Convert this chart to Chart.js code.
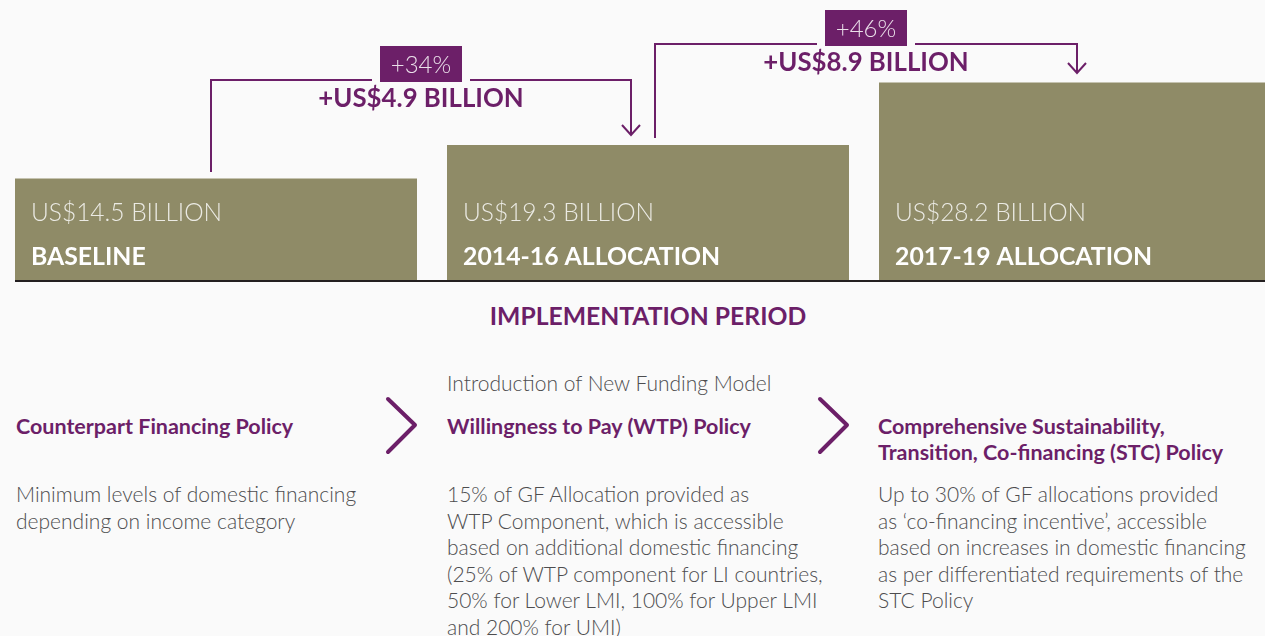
<!DOCTYPE html>
<html>
<head>
<meta charset="utf-8">
<script src="https://cdn.jsdelivr.net/npm/chart.js@4/dist/chart.umd.min.js"></script>
<style>
  html, body { margin: 0; padding: 0; background: #fafafa; overflow: hidden; }
  body { width: 1265px; height: 636px; position: relative; font-family: Lato, "Open Sans", sans-serif; }
  #chart { position: absolute; left: 0; top: 0; }
  .txt { position: absolute; white-space: nowrap; }
  .title { left: 0; width: 1296px; top: 301px; text-align: center; font-size: 24.7px; line-height: 30px; font-weight: 700; color: #6c1f68; }
  .intro { top: 370px; font-size: 21px; line-height: 26px; font-weight: 300; color: #4d4d4f; }
  .head { top: 413px; font-size: 21.5px; line-height: 26px; font-weight: 700; color: #6c1f68; }
  .body { top: 481px; font-size: 21px; line-height: 26.6px; font-weight: 300; color: #4d4d4f; }
  svg { position: absolute; left: 0; top: 0; }
</style>
</head>
<body>
<canvas id="chart" width="1296" height="300"></canvas>

<div class="txt title">IMPLEMENTATION PERIOD</div>

<div class="txt head" style="left:16px">Counterpart Financing Policy</div>
<div class="txt body" style="left:16px">Minimum levels of domestic financing<br>depending on income category</div>

<div class="txt intro" style="left:447px">Introduction of New Funding Model</div>
<div class="txt head" style="left:447px">Willingness to Pay (WTP) Policy</div>
<div class="txt body" style="left:447px">15% of GF Allocation provided as<br>WTP Component, which is accessible<br>based on additional domestic financing<br>(25% of WTP component for LI countries,<br>50% for Lower LMI, 100% for Upper LMI<br>and 200% for UMI)</div>

<div class="txt head" style="left:878px">Comprehensive Sustainability,<br>Transition, Co-financing (STC) Policy</div>
<div class="txt body" style="left:878px">Up to 30% of GF allocations provided<br>as ‘co-financing incentive’, accessible<br>based on increases in domestic financing<br>as per differentiated requirements of the<br>STC Policy</div>

<svg width="1265" height="636">
  <polyline points="388,399 415,425 388,452" fill="none" stroke="#6c1f68" stroke-width="4" stroke-linecap="round" stroke-linejoin="round"/>
  <polyline points="820,399 847,425 820,452" fill="none" stroke="#6c1f68" stroke-width="4" stroke-linecap="round" stroke-linejoin="round"/>
</svg>

<script>
// allocation periods and amounts (US$ billion)
const categories = ['BASELINE', '2014-16 ALLOCATION', '2017-19 ALLOCATION'];
const allocations = [14.5, 19.3, 28.2];

// increase from one period to the next
const increaseAmounts = [4.9, 8.9];
const increasePercents = [34, 46];

const PURPLE = '#6c1f68';

// label inside each bar + brackets with arrows between bars
const allocationLabels = {
    id: 'allocationLabels',
    afterDatasetsDraw(chart) {
        const ctx = chart.ctx;
        const bars = chart.getDatasetMeta(0).data;
        const area = chart.chartArea;

        ctx.save();

        // base line under the bars
        ctx.fillStyle = '#231f20';
        ctx.fillRect(bars[0].x - bars[0].width / 2, area.bottom, chart.width, 2);

        ctx.textBaseline = 'middle';
        ctx.textAlign = 'left';
        bars.forEach((bar, i) => {
            const left = bar.x - bar.width / 2;
            ctx.font = '300 24.5px Lato';
            ctx.fillStyle = 'rgba(255,255,255,0.82)';
            ctx.fillText('US$' + allocations[i].toFixed(1) + ' BILLION', left + 16, bar.base - 67);
            ctx.font = '700 24.8px Lato';
            ctx.fillStyle = '#ffffff';
            ctx.fillText(categories[i], left + 16, bar.base - 23);
        });

        // bracket offsets from the bar centres, and height of the top line
        const brackets = [
            { from: -5, to: -17, level: 80 },
            { from: 7, to: -3, level: 44 }
        ];

        ctx.strokeStyle = PURPLE;
        ctx.lineWidth = 2;
        brackets.forEach((b, i) => {
            const from = bars[i];
            const to = bars[i + 1];
            const x1 = Math.round(from.x + b.from);
            const x2 = Math.round(to.x + b.to);
            const y0 = b.level;
            const mid = (x1 + x2) / 2;
            const tip = Math.round(to.y - 10);

            ctx.font = '300 24px Lato';
            const pct = '+' + increasePercents[i] + '%';
            const w = Math.round(ctx.measureText(pct).width + 22);
            const boxLeft = Math.round(mid - w / 2);

            ctx.beginPath();
            ctx.moveTo(x1, Math.round(from.y - 7));
            ctx.lineTo(x1, y0);
            ctx.lineTo(boxLeft - 8, y0);
            ctx.moveTo(boxLeft + w + 8, y0);
            ctx.lineTo(x2, y0);
            ctx.lineTo(x2, tip);
            ctx.moveTo(x2 - 9, tip - 10);
            ctx.lineTo(x2, tip);
            ctx.lineTo(x2 + 9, tip - 10);
            ctx.stroke();

            ctx.fillStyle = PURPLE;
            ctx.fillRect(boxLeft, y0 - 34, w, 36);
            ctx.fillStyle = '#eadfe9';
            ctx.textAlign = 'center';
            ctx.fillText(pct, mid, y0 - 15);

            ctx.font = '700 25.8px Lato';
            ctx.fillStyle = PURPLE;
            ctx.fillText('+US$' + increaseAmounts[i].toFixed(1) + ' BILLION', mid, y0 + 19);
        });

        ctx.restore();
    }
};

new Chart(document.getElementById('chart'), {
    type: 'bar',
    data: {
        labels: categories,
        datasets: [{
            data: allocations,
            backgroundColor: '#8f8b67',
            borderWidth: 0,
            barPercentage: 402 / 432,
            categoryPercentage: 1
        }]
    },
    options: {
        responsive: false,
        animation: false,
        events: [],
        layout: { padding: { top: 0, right: 0, bottom: 20, left: 0 } },
        plugins: {
            legend: { display: false },
            tooltip: { enabled: false }
        },
        scales: {
            x: { display: false },
            y: { display: false, min: 0, max: 40 }
        }
    },
    plugins: [allocationLabels]
});
</script>
</body>
</html>
